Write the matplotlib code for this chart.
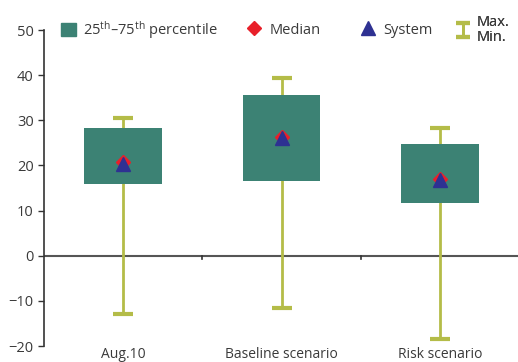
import matplotlib.pyplot as plt
import matplotlib.patches as mpatches
from matplotlib.legend_handler import HandlerErrorbar
import numpy as np

plt.rcParams['font.family'] = ['Open Sans', 'DejaVu Sans']
plt.rcParams['mathtext.default'] = 'regular'

categories = ["Aug.10", "Baseline scenario", "Risk scenario"]
p25 = [15.9, 16.5, 11.7]
p75 = [28.3, 35.6, 24.8]
vmax = [30.6, 39.3, 28.3]
vmin = [-13.0, -11.5, -18.5]
median = [20.7, 26.3, 17.1]
system = [20.4, 26.1, 16.8]

teal = "#3c8274"
olive = "#b4bc48"
red = "#e8202a"
navy = "#2e3192"
txt = "#3a3a3a"

fig = plt.figure(figsize=(5.18, 3.62), dpi=100)
ax = fig.add_axes([0.085, 0.044, 0.917, 0.873])

x = np.arange(len(categories)) + 0.5
mid = np.array(median)
ax.errorbar(x, mid, yerr=[mid - np.array(vmin), np.array(vmax) - mid],
            fmt='none', ecolor=olive, elinewidth=2, capsize=7.3, capthick=3,
            zorder=1)
ax.bar(x, np.array(p75) - np.array(p25), bottom=p25, width=0.49, color=teal,
       zorder=2)
med, = ax.plot(x, median, linestyle='none', marker='D', markersize=7, color=red,
               zorder=3)
sysm, = ax.plot(x, system, linestyle='none', marker='^', markersize=10, color=navy,
                zorder=4)

ax.set_xlim(0, 3)
ax.set_ylim(-20, 50)
ax.set_yticks(range(-20, 51, 10))
ax.set_xticks(x)
ax.set_xticklabels(categories)
ax.tick_params(axis='x', length=0, pad=1, labelsize=10, labelcolor=txt)
ax.tick_params(axis='y', length=4, width=1, direction='out', labelsize=10.5,
               labelcolor=txt, color="#333333")
for s in ['top', 'right', 'bottom']:
    ax.spines[s].set_visible(False)
ax.spines['left'].set_color("#333333")
ax.spines['left'].set_linewidth(1.2)

# zero line with small ticks at category borders
ax.axhline(0, color="#555555", linewidth=1.5, zorder=0)
for b in [1, 2]:
    ax.plot([b, b], [0, -0.7], color="#333333", linewidth=1.2, zorder=0)

# small proxy for the max/min legend symbol
err_proxy = ax.errorbar([np.nan], [np.nan], yerr=[1], fmt='none', ecolor=olive,
                        elinewidth=2, capsize=5, capthick=3)

# legend entries placed one by one along the top
box_handle = mpatches.Patch(color=teal)
entries = [
    (box_handle, "25$^{th}$\u201375$^{th}$ percentile", 0.036, 1.05),
    (med, "Median", 0.424, 1.2),
    (sysm, "System", 0.664, 1.2),
    (err_proxy, "Max.\nMin.", 0.866, 1.0),
]
for h, lab, xpos, hl in entries:
    leg = ax.legend([h], [lab], loc='center left', bbox_to_anchor=(xpos, 1.0),
                    frameon=False, fontsize=10.5, handlelength=hl,
                    handleheight=1.05 if hl == 1.05 else 0.7,
                    handletextpad=0.45, borderpad=0, borderaxespad=0,
                    labelspacing=0, labelcolor=txt,
                    handler_map={type(err_proxy): HandlerErrorbar(xerr_size=0.5, yerr_size=0.48)})
    leg.get_texts()[0].set_linespacing(0.95)
    ax.add_artist(leg)

fig.savefig("out.png", dpi=100)
